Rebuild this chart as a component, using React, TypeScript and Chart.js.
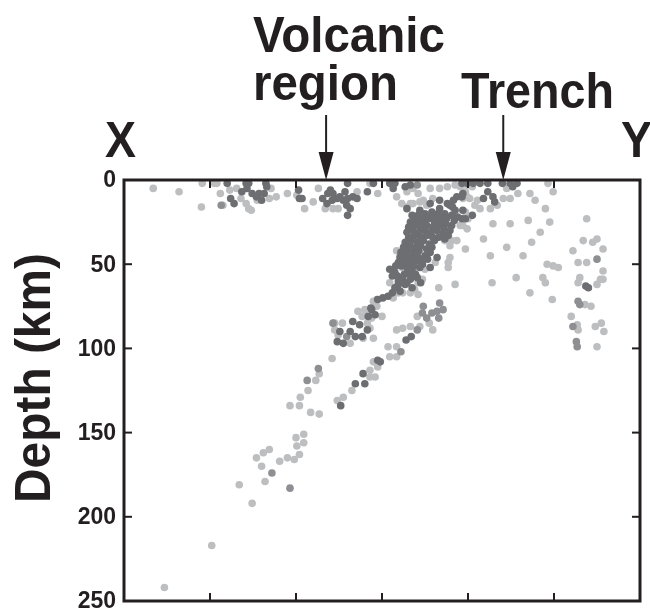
import React, { useEffect, useRef } from "react";
import { Chart, registerables } from "chart.js";

Chart.register(...registerables);

// Depth axis ticks (km) and horizontal distance ticks (unlabelled)
const depthTicks = [0, 50, 100, 150, 200, 250];
const distanceTicks = [100, 200, 300, 400, 500];

// Earthquake hypocentres: [distance along X–Y section, depth km]
const lightQuakes: [number, number][] = [
  [34,5],[64,7],[90,16],[91,2],[105,2],[108,2],[112,8],[115,15],[123,6],[131,5],[136,11],[142,14],[145,17],[148,18],[155,12],[171,5],[169,11],[177,10],[190,8],[201,9],
  [210,17],[220,13],[226,5],[234,17],[243,17],[249,17],[271,7],[286,2],[295,8],[317,10],[329,7],[330,4],[336,5],[342,8],[323,14],[333,14],[348,12],[359,11],[356,5],[367,5],[376,4],[385,3],[391,4],[399,3],[405,4],[394,11],[402,11],[411,12],
  [445,5],[449,11],[441,11],[458,8],[434,15],[426,17],[414,17],[408,15],[399,10],[397,7],[394,27],[399,29],[472,8],[478,12],[490,17],[495,25],[470,24],[449,26],[429,26],[418,35],[397,41],[426,45],[445,40],[464,45],[474,37],[484,31],[493,2],[499,7],[538,23],[534,36],[550,35],[545,37],[557,41],[522,42],
  [528,49],[538,49],[492,50],[499,51],[505,52],[557,54],[557,59],[530,58],[528,61],[550,62],[554,59],[487,58],[490,61],[428,61],[456,58],[385,62],[366,64],[377,52],[379,46],
  [472,67],[498,71],[536,74],[543,75],[520,81],[527,86],[528,89],[555,85],[558,90],[548,87],[550,99],
  [309,61],[324,67],[333,67],[319,67],[342,68],[313,70],[294,75],[300,81],[288,82],[286,88],[290,94],[341,81],[355,85],[359,89],[344,87],[333,87],[324,88],[317,89],[307,99],[317,99],[309,105],[317,105],[290,108],[295,111],[286,113],[292,117],[286,117],
  [290,72],[272,78],[280,77],[277,81],[283,85],[254,85],[245,85],[245,89],[249,92],[263,97],[278,94],[242,106],[265,125],[255,129],[248,131],[227,115],[223,119],[214,125],[205,129],[204,134],[193,134],[217,138],[227,139],
  [200,153],[209,151],[201,158],[209,156],[204,163],[198,166],[190,165],[181,167],[169,160],[162,162],[154,165],[160,170],[164,179],[134,181],[149,192],[102,217],[47,242],
  [336,14],[344,13],[352,15],[329,16],[397,19],[400,23],[391,27],[373,36],[381,36],[387,36],[379,39],[317,42],[321,45],[377,49],[350,53],[362,49],[342,61],[338,65],[294,71],
  [323,52],[319,58],[336,53],[347,59]
];

const mediumQuakes: [number, number][] = [
  [113,15],[341,3],[550,47],[528,72],[530,74],[522,87],[526,96],[527,99],[348,75],[347,79],[352,82],[358,79],[364,78],[371,77],[367,73],[366,82],[341,89],[322,102],[243,85],[259,93],[226,112],[213,119],[172,174],[193,183]
];

const darkQuakes: [number, number][] = [
  [120,2],[124,11],[128,14],[137,7],[142,2],[145,2],[143,5],[149,8],[154,10],[157,8],[160,12],[163,8],[165,2],[166,4],[204,11],[203,6],
  [207,11],[231,11],[237,8],[243,8],[248,11],[251,10],[255,12],[260,11],[266,10],[271,11],[259,15],[263,17],[236,14],[242,12],[260,2],[260,21],[283,7],[309,2],[313,5],[315,2],[240,6],[257,7],
  [393,2],[399,2],[406,2],[414,2],[423,2],[440,2],[449,2],[457,2],[452,4],[423,7],[418,11],[429,10],[431,13],[394,18],[397,23],[405,21],[393,23],[333,3],[327,4],[290,2],
  [329,17],[335,21],[341,26],[367,17],[379,15],[387,10],[394,8],[383,12],[344,18],[356,14],[367,12],[393,10],[385,18],[376,14],[382,16],
  [342,21],[350,20],[358,19],[365,20],[373,20],[381,21],[388,22],
  [333,25],[340,24],[347,25],[354,23],[361,25],[367,24],[374,26],[381,27],
  [329,31],[336,30],[343,31],[350,30],[357,31],[364,30],[371,32],[377,33],
  [327,37],[334,36],[341,37],[348,36],[355,38],[361,36],
  [322,43],[329,42],[336,43],[343,42],[350,45],[356,43],
  [319,49],[326,48],[333,49],[340,48],[347,50],
  [346,23],[353,22],[360,22],[368,22],[375,23],[384,24],
  [331,28],[338,27],[345,28],[352,27],[359,28],[366,27],[372,29],[379,30],
  [331,34],[338,33],[345,34],[352,33],[359,34],[366,34],[373,35],
  [325,40],[332,39],[339,40],[345,39],[352,41],[358,40],
  [321,46],[328,45],[334,46],[341,45],[347,47],[353,47],
  [316,51],[323,51],[330,51],[337,51],[344,52],
  [312,57],[318,57],[326,56],[333,56],[339,56],
  [315,64],[321,66],[312,67],[318,63],
  [309,53],[315,55],[321,59],[324,58],[329,61],[333,59],[341,58],[336,55],[330,53],[356,52],[364,46],[327,62],[335,64],[301,70],[307,69],[288,77],[292,80],[345,61],[323,61],[319,60],[334,93],[328,95],[298,108],
  [295,71],[287,76],[284,81],[274,86],[266,84],[263,90],[269,93],[277,93],[283,89],[251,90],[248,96],[255,97],[295,107],[278,115],[269,121],[280,121],[252,134],
  [537,63],[540,64]
];

// Annotated locations along the section
const volcanicAt = 235;
const trenchAt = 441;

const INK = "#231f20";
const FONT = "'Liberation Sans', Arial, Helvetica, sans-serif";

function fitText(ctx: CanvasRenderingContext2D, text: string, x: number, y: number, size: number, width: number) {
  ctx.save();
  ctx.font = `bold ${size}px ${FONT}`;
  const w = ctx.measureText(text).width;
  ctx.translate(x, y);
  ctx.scale(width / w, 1);
  ctx.textAlign = "left";
  ctx.textBaseline = "alphabetic";
  ctx.fillText(text, 0, 0);
  ctx.restore();
}

const framePlugin = {
  id: "frame",
  afterDatasetsDraw(chart: any) {
    const { ctx, chartArea: a, scales } = chart;
    const xs = scales.x;
    const ys = scales.y;
    ctx.save();
    ctx.strokeStyle = INK;
    ctx.fillStyle = INK;
    ctx.lineWidth = 3;
    ctx.strokeRect(a.left, a.top, a.right - a.left, a.bottom - a.top);
    ctx.lineWidth = 2;
    const line = (x1: number, y1: number, x2: number, y2: number) => {
      ctx.beginPath();
      ctx.moveTo(x1, y1);
      ctx.lineTo(x2, y2);
      ctx.stroke();
    };
    for (const v of distanceTicks) {
      const px = xs.getPixelForValue(v);
      line(px, a.top, px, a.top + 8);
      line(px, a.bottom, px, a.bottom - 8);
    }
    for (const v of depthTicks) {
      if (v === 0 || v === 250) continue;
      const py = ys.getPixelForValue(v);
      line(a.left, py, a.left + 8, py);
      line(a.right, py, a.right - 8, py);
    }
    // depth labels
    ctx.font = `bold 23px ${FONT}`;
    ctx.textAlign = "right";
    ctx.textBaseline = "middle";
    for (const v of depthTicks) {
      ctx.fillText(String(v), a.left - 8, ys.getPixelForValue(v) + 1);
    }
    // axis title
    ctx.save();
    ctx.translate(50, 378);
    ctx.rotate(-Math.PI / 2);
    ctx.font = `bold 50px ${FONT}`;
    const tw = ctx.measureText("Depth (km)").width;
    ctx.scale(250 / tw, 1);
    ctx.textAlign = "center";
    ctx.textBaseline = "alphabetic";
    ctx.fillText("Depth (km)", 0, 0);
    ctx.restore();

    // annotations
    fitText(ctx, "Volcanic", 253, 52, 50, 192);
    fitText(ctx, "region", 253, 100, 50, 145);
    fitText(ctx, "Trench", 461, 108, 50, 153);
    fitText(ctx, "X", 105, 157, 50, 31);
    fitText(ctx, "Y", 621, 157, 50, 31);

    const arrow = (v: number) => {
      const px = xs.getPixelForValue(v);
      ctx.lineWidth = 2;
      line(px, 115, px, 155);
      ctx.beginPath();
      ctx.moveTo(px - 7.5, 152);
      ctx.lineTo(px + 7.5, 152);
      ctx.lineTo(px, a.top);
      ctx.closePath();
      ctx.fill();
    };
    arrow(volcanicAt);
    arrow(trenchAt);
    ctx.restore();
  },
};

export default function App() {
  const ref = useRef<HTMLCanvasElement | null>(null);
  useEffect(() => {
    if (!ref.current) return;
    const toPts = (arr: [number, number][]) => arr.map(([x, y]) => ({ x, y }));
    const ds = (data: [number, number][], color: string) => ({
      data: toPts(data),
      backgroundColor: color,
      borderWidth: 0,
      pointRadius: 3.8,
      pointHoverRadius: 3.8,
      pointBorderWidth: 0,
      clip: false as any,
    });
    const chart = new Chart(ref.current, {
      type: "scatter",
      data: {
        datasets: [
          ds(darkQuakes, "#6d6e71"),
          ds(mediumQuakes, "#8e8f92"),
          ds(lightQuakes, "#bcbec0"),
        ],
      },
      options: {
        responsive: false,
        animation: false,
        events: [],
        layout: { padding: { left: 124, top: 180, right: 10, bottom: 13 } },
        scales: {
          x: { type: "linear", min: 0, max: 600, display: false },
          y: { type: "linear", min: 0, max: 250, reverse: true, display: false },
        },
        plugins: { legend: { display: false }, tooltip: { enabled: false } },
      },
      plugins: [framePlugin],
    });
    return () => chart.destroy();
  }, []);
  return (
    <div style={{ position: "absolute", left: 0, top: 0, width: 650, height: 614, background: "#fff" }}>
      <canvas ref={ref} width={650} height={614} style={{ display: "block" }} />
    </div>
  );
}
